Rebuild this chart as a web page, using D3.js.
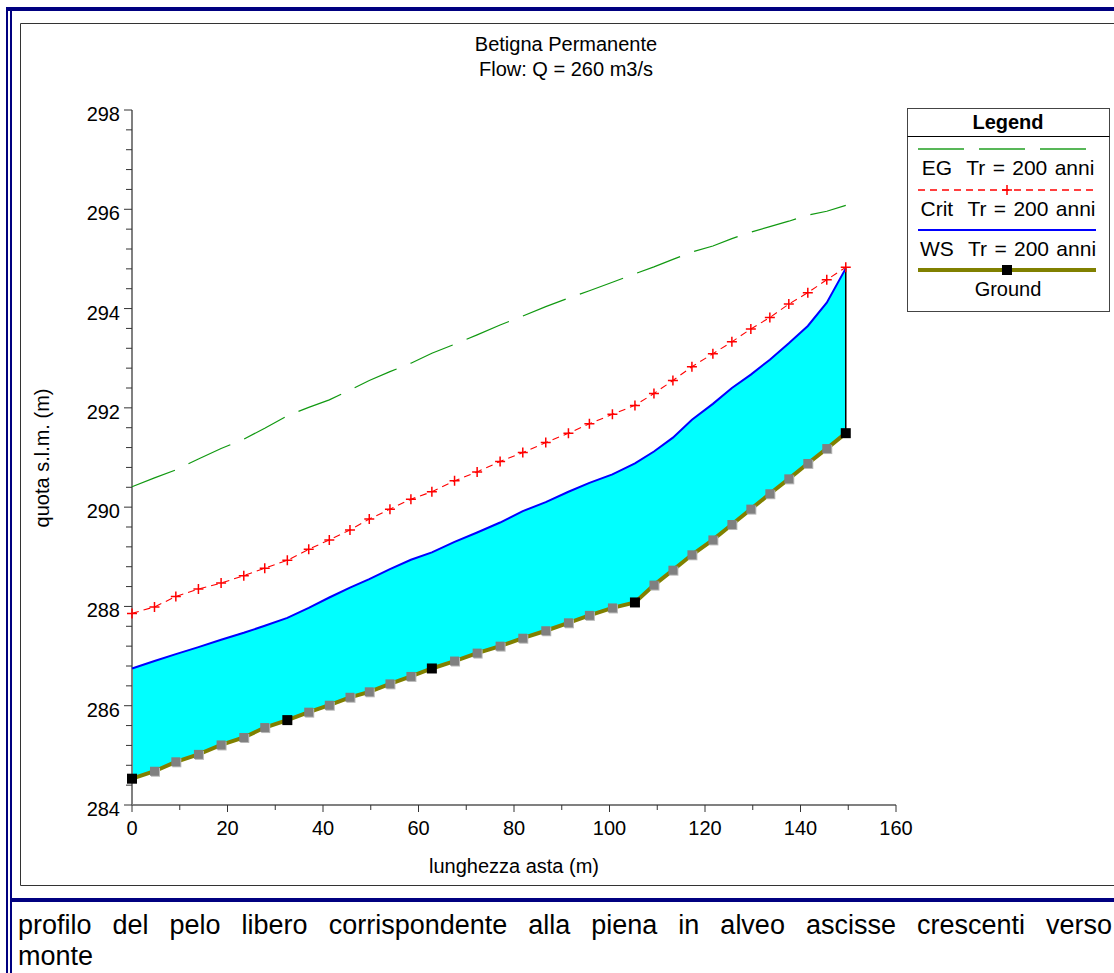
<!DOCTYPE html>
<html>
<head>
<meta charset="utf-8">
<script src="https://cdn.jsdelivr.net/npm/d3@7"></script>
<style>
  body { margin: 0; background: #fff; overflow: hidden; }
  svg { display: block; font-family: "Liberation Sans", Arial, sans-serif; }
</style>
</head>
<body>
<svg id="chart" width="1114" height="973"></svg>
<script>
// station abscissae (m) along the reach
var stations = [0, 4.71, 9.18, 13.91, 18.66, 23.41, 27.80, 32.53, 37.01, 41.32, 45.65, 49.69,
  54.02, 58.41, 62.80, 67.55, 72.28, 77.09, 81.84, 86.65, 91.40, 95.79, 100.61, 105.33,
  109.31, 113.28, 117.26, 121.65, 125.63, 129.60, 133.58, 137.55, 141.53, 145.50, 149.48];

var ground = [284.53, 284.68, 284.87, 285.02, 285.21, 285.36, 285.56, 285.71, 285.87, 286.01,
  286.17, 286.28, 286.44, 286.59, 286.75, 286.90, 287.06, 287.20, 287.36, 287.51, 287.67,
  287.82, 287.97, 288.08, 288.43, 288.73, 289.04, 289.34, 289.65, 289.96, 290.27, 290.57,
  290.88, 291.18, 291.49];

var ws = [286.75, 286.90, 287.04, 287.18, 287.33, 287.47, 287.61, 287.77, 287.97, 288.18,
  288.38, 288.55, 288.75, 288.94, 289.09, 289.30, 289.49, 289.69, 289.92, 290.10, 290.31,
  290.49, 290.66, 290.88, 291.12, 291.40, 291.76, 292.08, 292.40, 292.67, 292.97, 293.30,
  293.65, 294.12, 294.81];

var crit = [287.86, 287.99, 288.20, 288.35, 288.47, 288.62, 288.77, 288.93, 289.15, 289.34,
  289.54, 289.76, 289.96, 290.16, 290.31, 290.53, 290.71, 290.92, 291.10, 291.30, 291.49,
  291.68, 291.87, 292.05, 292.29, 292.55, 292.83, 293.09, 293.33, 293.59, 293.82, 294.09,
  294.32, 294.58, 294.83];

var eg = [290.41, 290.59, 290.75, 290.97, 291.18, 291.37, 291.59, 291.84, 292.01, 292.16,
  292.36, 292.55, 292.73, 292.90, 293.10, 293.28, 293.47, 293.67, 293.85, 294.04, 294.21,
  294.36, 294.53, 294.70, 294.84, 294.99, 295.14, 295.26, 295.41, 295.54, 295.65, 295.76,
  295.88, 295.96, 296.08];

// stations drawn with a black marker on the ground line
var keyStations = [0, 7, 14, 23, 34];

var xTicks = [0, 20, 40, 60, 80, 100, 120, 140, 160];
var yTicks = [284, 286, 288, 290, 292, 294, 296, 298];

var titleLines = ['Betigna Permanente', 'Flow: Q = 260 m3/s'];
var legendItems = ['EG  Tr = 200 anni', 'Crit  Tr = 200 anni', 'WS  Tr = 200 anni', 'Ground'];
var caption = ['profilo del pelo libero corrispondente alla piena in alveo ascisse crescenti verso', 'monte'];

var svg = d3.select('#chart');

var x = d3.scaleLinear().domain([0, 160]).range([132, 896]);
var y = d3.scaleLinear().domain([284, 298]).range([805, 110]);

var rows = stations.map(function(s, i) {
  return { x: s, ground: ground[i], ws: ws[i], crit: crit[i], eg: eg[i], key: keyStations.indexOf(i) >= 0 };
});

// page frame: navy double rule on the left, thick rules top and above caption
var navy = '#000080';
svg.append('rect').attr('x', 6).attr('y', 7).attr('width', 2).attr('height', 966).attr('fill', navy);
svg.append('rect').attr('x', 10).attr('y', 7).attr('width', 2).attr('height', 966).attr('fill', navy);
svg.append('rect').attr('x', 6).attr('y', 7).attr('width', 1108).attr('height', 4).attr('fill', navy);
svg.append('rect').attr('x', 10).attr('y', 898).attr('width', 1104).attr('height', 4).attr('fill', navy);

// chart frame
svg.append('path')
  .attr('d', 'M1114,23.5 H20.5 V885.5 H1114')
  .attr('fill', 'none')
  .attr('stroke', '#333')
  .attr('stroke-width', 1);

// title
svg.selectAll('text.title')
  .data(titleLines)
  .enter().append('text')
  .attr('class', 'title')
  .attr('x', 566)
  .attr('y', function(d, i) { return 51 + i * 25; })
  .attr('text-anchor', 'middle')
  .style('font-size', '20px')
  .text(function(d) { return d; });

// water between ground and WS
var area = d3.area()
  .x(function(d) { return x(d.x); })
  .y0(function(d) { return y(d.ground); })
  .y1(function(d) { return y(d.ws); });

svg.append('path')
  .datum(rows)
  .attr('d', area)
  .attr('fill', '#00ffff');

// axes (under the series marks)
var xAxis = svg.append('g').attr('transform', 'translate(0,805)');
xAxis.append('line')
  .attr('x1', x(0)).attr('x2', x(160))
  .attr('stroke', '#808080').attr('stroke-width', 2);
xAxis.selectAll('line.minor')
  .data(d3.range(0, 161, 10))
  .enter().append('line')
  .attr('class', 'minor')
  .attr('x1', function(d) { return x(d); }).attr('x2', function(d) { return x(d); })
  .attr('y1', 0).attr('y2', function(d) { return d % 20 === 0 ? 7 : 5; })
  .attr('stroke', '#333');
xAxis.selectAll('text')
  .data(xTicks)
  .enter().append('text')
  .attr('x', function(d) { return x(d); })
  .attr('y', 30)
  .attr('text-anchor', 'middle')
  .style('font-size', '20px')
  .text(function(d) { return d; });

var yAxis = svg.append('g').attr('transform', 'translate(132,0)');
yAxis.append('line')
  .attr('y1', y(284)).attr('y2', y(298))
  .attr('stroke', '#808080').attr('stroke-width', 2);
yAxis.selectAll('line.minor')
  .data(d3.range(0, 36).map(function(i) { return 284 + i * 0.4; }))
  .enter().append('line')
  .attr('class', 'minor')
  .attr('y1', function(d) { return y(d); }).attr('y2', function(d) { return y(d); })
  .attr('x1', function(d, i) { return i % 5 === 0 ? -8 : -6; }).attr('x2', 0)
  .attr('stroke', '#333');
yAxis.selectAll('text')
  .data(yTicks)
  .enter().append('text')
  .attr('x', -12)
  .attr('y', function(d) { return y(d) + 11; })
  .attr('text-anchor', 'end')
  .style('font-size', '20px')
  .text(function(d) { return d; });

svg.append('text')
  .attr('x', 514)
  .attr('y', 873)
  .attr('text-anchor', 'middle')
  .style('font-size', '20px')
  .text('lunghezza asta (m)');

svg.append('text')
  .attr('transform', 'translate(49,458) rotate(-90)')
  .attr('text-anchor', 'middle')
  .style('font-size', '20px')
  .text('quota s.l.m. (m)');

var last = rows[rows.length - 1];
svg.append('line')
  .attr('x1', x(last.x)).attr('x2', x(last.x))
  .attr('y1', y(last.ws)).attr('y2', y(last.ground))
  .attr('stroke', '#000')
  .attr('stroke-width', 1.5);

function lineOf(key) {
  return d3.line()
    .x(function(d) { return x(d.x); })
    .y(function(d) { return y(d[key]); });
}

// EG
svg.append('path')
  .datum(rows)
  .attr('d', lineOf('eg'))
  .attr('fill', 'none')
  .attr('stroke', '#119911')
  .attr('stroke-width', 1.2)
  .attr('stroke-dasharray', '46,15');

// WS
svg.append('path')
  .datum(rows)
  .attr('d', lineOf('ws'))
  .attr('fill', 'none')
  .attr('stroke', '#0000ff')
  .attr('stroke-width', 2);

// Crit
svg.append('path')
  .datum(rows)
  .attr('d', lineOf('crit'))
  .attr('fill', 'none')
  .attr('stroke', '#ff0000')
  .attr('stroke-width', 1.1)
  .attr('stroke-dasharray', '7,5');

function plus(sel, size) {
  sel.append('path')
    .attr('d', 'M' + (-size) + ',0H' + size + 'M0,' + (-size) + 'V' + size)
    .attr('stroke', '#ff0000')
    .attr('stroke-width', 1.5)
    .attr('fill', 'none');
}

svg.selectAll('g.crit')
  .data(rows)
  .enter().append('g')
  .attr('class', 'crit')
  .attr('transform', function(d) { return 'translate(' + x(d.x) + ',' + y(d.crit) + ')'; })
  .call(plus, 5);

// Ground
svg.append('path')
  .datum(rows)
  .attr('d', lineOf('ground'))
  .attr('fill', 'none')
  .attr('stroke', '#808000')
  .attr('stroke-width', 4);

var gm = svg.selectAll('g.gmark')
  .data(rows)
  .enter().append('g')
  .attr('class', 'gmark')
  .attr('transform', function(d) { return 'translate(' + x(d.x) + ',' + y(d.ground) + ')'; });

gm.append('rect')
  .attr('x', -3.5).attr('y', -3.5)
  .attr('width', 9).attr('height', 9)
  .attr('fill', function(d) { return d.key ? 'none' : '#b8b8b8'; });

gm.append('rect')
  .attr('x', function(d) { return d.key ? -5 : -4.5; })
  .attr('y', function(d) { return d.key ? -5 : -4.5; })
  .attr('width', function(d) { return d.key ? 10 : 9; })
  .attr('height', function(d) { return d.key ? 10 : 9; })
  .attr('fill', function(d) { return d.key ? '#000' : '#808080'; });

// legend
var lg = svg.append('g');
lg.append('rect')
  .attr('x', 907.5).attr('y', 108.5)
  .attr('width', 202).attr('height', 203)
  .attr('fill', '#fff').attr('stroke', '#444');
lg.append('line')
  .attr('x1', 907.5).attr('x2', 1109.5)
  .attr('y1', 136.5).attr('y2', 136.5)
  .attr('stroke', '#000');
lg.append('text')
  .attr('x', 1008).attr('y', 129)
  .attr('text-anchor', 'middle')
  .style('font-size', '20px').style('font-weight', 'bold')
  .text('Legend');

var lgStyles = [
  { stroke: '#22a022', width: 1.6, dash: '46,15', x2: 1088 },
  { stroke: '#ff0000', width: 1.6, dash: '7,5', x2: 1096 },
  { stroke: '#0000ff', width: 2, dash: null, x2: 1096 },
  { stroke: '#808000', width: 4, dash: null, x2: 1096 }
];

legendItems.forEach(function(label, i) {
  var ly = [149, 190, 230, 270][i];
  var st = lgStyles[i];
  lg.append('line')
    .attr('x1', 918).attr('x2', st.x2)
    .attr('y1', ly).attr('y2', ly)
    .attr('stroke', st.stroke)
    .attr('stroke-width', st.width)
    .attr('stroke-dasharray', st.dash);
  if (i === 1) {
    lg.append('g').attr('transform', 'translate(1007,' + ly + ')').call(plus, 5);
  }
  if (i === 3) {
    lg.append('rect').attr('x', 1002).attr('y', ly - 5).attr('width', 10).attr('height', 10).attr('fill', '#000');
  }
  lg.append('text')
    .attr('x', 1008).attr('y', ly + 26)
    .attr('text-anchor', 'middle')
    .style('font-size', i < 3 ? '21px' : '20px')
    .style('white-space', 'pre')
    .style('word-spacing', i < 3 ? '1.5px' : null)
    .text(label);
});

// caption, first line justified
var capSize = 27;
var line1 = caption[0].split(' ');
var left = 18, right = 1112;
var words = svg.append('g').selectAll('text')
  .data(line1)
  .enter().append('text')
  .attr('y', 934)
  .style('font-size', capSize + 'px')
  .text(function(d) { return d; });
var widths = [];
words.each(function() { widths.push(this.getComputedTextLength()); });
var gap = (right - left - d3.sum(widths)) / (line1.length - 1);
var cx = left;
words.attr('x', function(d, i) { var p = cx; cx += widths[i] + gap; return p; });

svg.append('text')
  .attr('x', left)
  .attr('y', 965)
  .style('font-size', capSize + 'px')
  .text(caption[1]);
</script>
</body>
</html>
